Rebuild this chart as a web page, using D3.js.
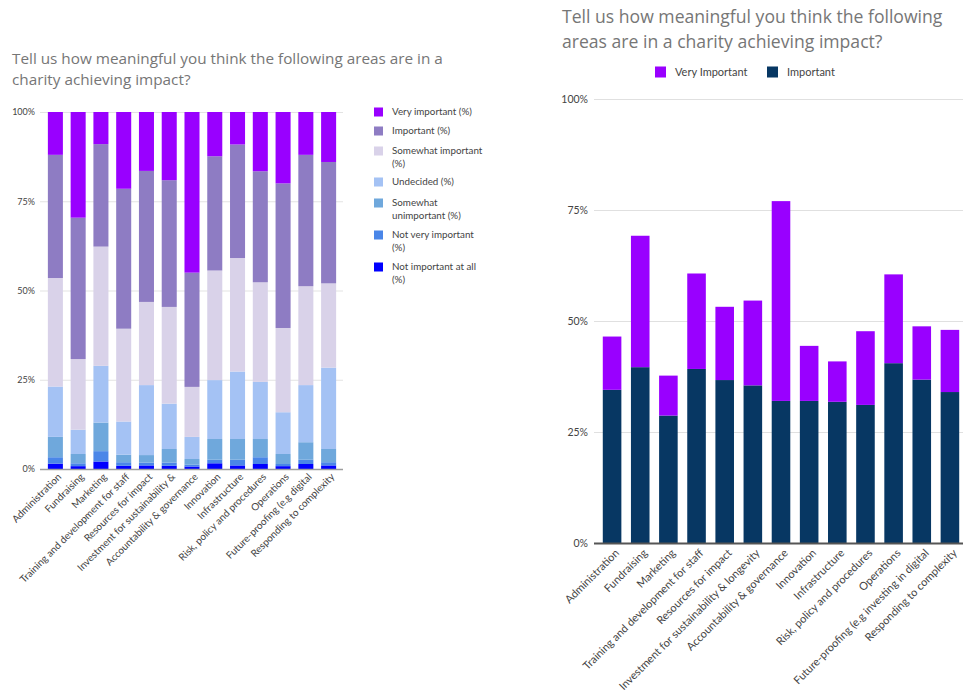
<!DOCTYPE html>
<html>
<head>
<meta charset="utf-8">
<script src="https://cdn.jsdelivr.net/npm/d3@7/dist/d3.min.js"></script>
<style>
  html, body { margin: 0; padding: 0; background: #fff; }
  svg { display: block; }
  .title { font-family: "Open Sans", sans-serif; fill: #767676; }
  .lbl { font-family: Lato, "Open Sans", sans-serif; fill: #444; }
</style>
</head>
<body>
<svg id="chart" width="963" height="700"></svg>
<script>
// Areas (short labels on the stacked chart, full labels on the two-series chart)
const categoriesStacked = [
  "Administration", "Fundraising", "Marketing", "Training and development for staff",
  "Resources for impact", "Investment for sustainability &", "Accountability & governance",
  "Innovation", "Infrastructure", "Risk, policy and procedures", "Operations",
  "Future-proofing (e.g digital", "Responding to complexity"
];
const categoriesPair = [
  "Administration", "Fundraising", "Marketing", "Training and development for staff",
  "Resources for impact", "Investment for sustainability & longevity", "Accountability & governance",
  "Innovation", "Infrastructure", "Risk, policy and procedures", "Operations",
  "Future-proofing (e.g investing in digital", "Responding to complexity"
];

// Response shares (%) per area
const veryImportant       = [12.0, 29.6,  9.0, 21.5, 16.5, 19.1, 45.0, 12.4,  9.1, 16.6, 20.0, 12.0, 14.0];
const important           = [34.5, 39.6, 28.7, 39.2, 36.7, 35.5, 32.0, 32.0, 31.8, 31.1, 40.5, 36.8, 34.0];
const somewhatImportant   = [30.4, 19.8, 33.4, 26.0, 23.3, 27.1, 14.0, 30.7, 31.8, 27.9, 23.6, 27.7, 23.6];
const undecided           = [14.1,  6.8, 15.9,  9.3, 19.6, 12.7,  6.2, 16.5, 18.9, 16.0, 11.7, 16.0, 22.8];
const somewhatUnimportant = [ 5.7,  2.6,  8.0,  2.1,  2.1,  3.8,  1.6,  5.8,  5.8,  5.1,  2.8,  4.9,  3.7];
const notVeryImportant    = [ 1.8,  0.8,  2.9,  1.0,  0.8,  0.9,  0.5,  1.0,  1.6,  1.9,  0.6,  1.2,  0.9];
const notImportantAtAll   = [ 1.5,  0.8,  2.1,  0.9,  1.0,  0.9,  0.7,  1.6,  1.0,  1.4,  0.8,  1.4,  1.0];

const yTicks = [0, 0.25, 0.5, 0.75, 1];

// Series, bottom of the stack first
const stackedSeries = [
  { key: "notImportantAtAll",   name: ["Not important at all", "(%)"], values: notImportantAtAll,   color: "#0000ff" },
  { key: "notVeryImportant",    name: ["Not very important", "(%)"],   values: notVeryImportant,    color: "#4a86e8" },
  { key: "somewhatUnimportant", name: ["Somewhat", "unimportant (%)"], values: somewhatUnimportant, color: "#6fa8dc" },
  { key: "undecided",           name: ["Undecided (%)"],               values: undecided,           color: "#a4c2f4" },
  { key: "somewhatImportant",   name: ["Somewhat important", "(%)"],   values: somewhatImportant,   color: "#d9d2e9" },
  { key: "important",           name: ["Important (%)"],               values: important,           color: "#8e7cc3" },
  { key: "veryImportant",       name: ["Very important (%)"],          values: veryImportant,       color: "#9900ff" }
];

const pairSeries = [
  { key: "important",     name: "Important",      values: important,     color: "#073763" },
  { key: "veryImportant", name: "Very Important", values: veryImportant, color: "#9900ff" }
];

const svg = d3.select("#chart");
const pct = d3.format(".0%");

// ---------- Stacked 100% chart (left) ----------
{
  const g = svg.append("g");
  g.append("text").attr("class", "title").attr("x", 12).attr("y", 64)
    .style("font-size", "15.3px").text("Tell us how meaningful you think the following areas are in a");
  g.append("text").attr("class", "title").attr("x", 12).attr("y", 85)
    .style("font-size", "15.3px").text("charity achieving impact?");

  const x = d3.scaleBand().domain(categoriesStacked).range([44, 340]).paddingInner(0.34).paddingOuter(0.17);
  const y = d3.scaleLinear().domain([0, 1]).range([469, 112]);

  // gridlines + tick labels
  const yAxis = d3.axisLeft(y).tickValues(yTicks).tickFormat(pct).tickSize(-303).tickPadding(5);
  const ya = g.append("g").attr("transform", "translate(40,0)").call(yAxis);
  ya.select(".domain").remove();
  ya.selectAll(".tick line").attr("stroke", "#e3e3e3");
  ya.selectAll(".tick text").attr("class", "lbl").style("font-size", "9px").attr("fill", "#444");

  const rows = categoriesStacked.map((c, i) => {
    const r = { cat: c };
    stackedSeries.forEach(s => r[s.key] = s.values[i] / 100);
    return r;
  });
  const stack = d3.stack().keys(stackedSeries.map(s => s.key))(rows);

  g.append("g").selectAll("g").data(stack).join("g")
    .attr("fill", (d, i) => stackedSeries[i].color)
    .selectAll("rect").data(d => d).join("rect")
    .attr("x", d => x(d.data.cat))
    .attr("width", x.bandwidth())
    .attr("y", d => y(d[1]))
    .attr("height", d => y(d[0]) - y(d[1]));

  // base line
  const xa = g.append("g").attr("transform", "translate(0,469)")
    .call(d3.axisBottom(x).tickSize(0).tickPadding(0));
  xa.select(".domain").attr("d", "M40,0.5H343").attr("stroke", "#9e9e9e").attr("stroke-width", 1.5);
  xa.selectAll(".tick text")
    .attr("class", "lbl").style("font-size", "10px").attr("fill", "#444")
    .attr("text-anchor", "end")
    .attr("transform", "translate(4,6) rotate(-45)")
    .attr("dy", "0.35em");

  // legend (top series first)
  const legendItems = stackedSeries.slice().reverse();
  const legendY = [112, 131, 151, 182, 203, 235, 267];
  const lg = g.append("g");
  legendItems.forEach((s, i) => {
    const ly = legendY[i];
    lg.append("rect").attr("x", 374).attr("y", ly - 4.5).attr("width", 9).attr("height", 9).attr("fill", s.color);
    s.name.forEach((line, k) => {
      lg.append("text").attr("class", "lbl").attr("x", 392).attr("y", ly + k * 12.5)
        .attr("dy", "0.35em").style("font-size", "9.8px").attr("fill", "#555").text(line);
    });
  });
}

// ---------- Important / Very Important chart (right) ----------
{
  const g = svg.append("g");
  g.append("text").attr("class", "title").attr("x", 562).attr("y", 23)
    .style("font-size", "17.6px").text("Tell us how meaningful you think the following");
  g.append("text").attr("class", "title").attr("x", 562).attr("y", 48)
    .style("font-size", "17.6px").text("areas are in a charity achieving impact?");

  // legend
  const legendDefs = [pairSeries[1], pairSeries[0]];
  const lx = [655, 767];
  legendDefs.forEach((s, i) => {
    g.append("rect").attr("x", lx[i]).attr("y", 66.5).attr("width", 11).attr("height", 11).attr("fill", s.color);
    g.append("text").attr("class", "lbl").attr("x", lx[i] + 20).attr("y", 72).attr("dy", "0.35em")
      .style("font-size", "11px").attr("fill", "#333").text(s.name);
  });

  const x = d3.scaleBand().domain(categoriesPair).range([598, 964]).paddingInner(0.34).paddingOuter(0.17);
  const y = d3.scaleLinear().domain([0, 1]).range([543, 99]);

  const yAxis = d3.axisLeft(y).tickValues(yTicks).tickFormat(pct).tickSize(-370).tickPadding(6);
  const ya = g.append("g").attr("transform", "translate(594,0)").call(yAxis);
  ya.select(".domain").remove();
  ya.selectAll(".tick line").attr("stroke", "#e0e0e0");
  ya.selectAll(".tick text").attr("class", "lbl").style("font-size", "10.5px").attr("fill", "#444");

  const rows = categoriesPair.map((c, i) => {
    const r = { cat: c };
    pairSeries.forEach(s => r[s.key] = s.values[i] / 100);
    return r;
  });
  const stack = d3.stack().keys(pairSeries.map(s => s.key))(rows);

  g.append("g").selectAll("g").data(stack).join("g")
    .attr("fill", (d, i) => pairSeries[i].color)
    .selectAll("rect").data(d => d).join("rect")
    .attr("x", d => x(d.data.cat))
    .attr("width", x.bandwidth())
    .attr("y", d => y(d[1]))
    .attr("height", d => y(d[0]) - y(d[1]));

  const xa = g.append("g").attr("transform", "translate(0,543)")
    .call(d3.axisBottom(x).tickSize(0).tickPadding(0));
  xa.select(".domain").attr("d", "M594,0.5H963").attr("stroke", "#555").attr("stroke-width", 2);
  xa.selectAll(".tick text")
    .attr("class", "lbl").style("font-size", "11px").attr("fill", "#444")
    .attr("text-anchor", "end")
    .attr("transform", "translate(5,8) rotate(-45)")
    .attr("dy", "0.35em");
}
</script>
</body>
</html>
